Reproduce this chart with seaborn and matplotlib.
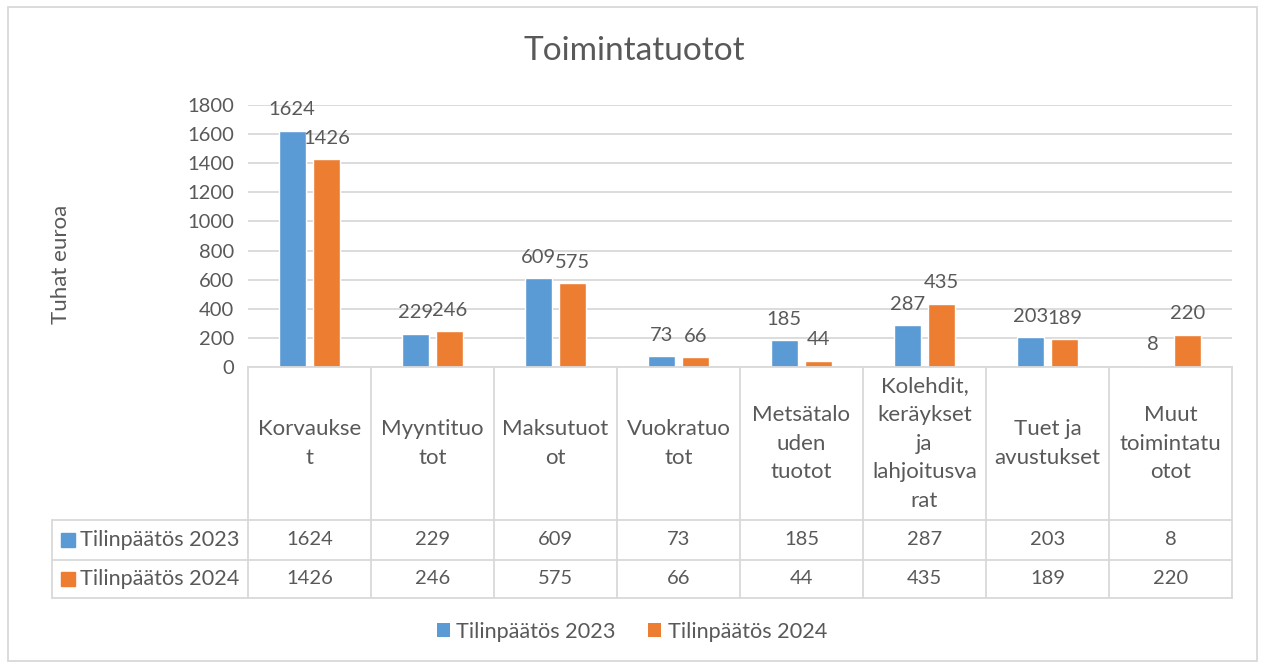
import pandas as pd
import numpy as np
import matplotlib
matplotlib.use("Agg")
import matplotlib.pyplot as plt
import matplotlib.transforms as mtransforms
from matplotlib.patches import Rectangle, Patch
import seaborn as sns

# data
categories = ["Korvaukse\nt", "Myyntituo\ntot", "Maksutuot\not", "Vuokratuo\ntot",
              "Metsätalo\nuden\ntuotot", "Kolehdit,\nkeräykset\nja\nlahjoitusva\nrat",
              "Tuet ja\navustukset", "Muut\ntoimintatu\notot"]
series = ["Tilinpäätös 2023", "Tilinpäätös 2024"]
values_2023 = [1624, 229, 609, 73, 185, 287, 203, 8]
values_2024 = [1426, 246, 575, 66, 44, 435, 189, 220]
yticks = list(range(0, 1801, 200))

colors = ["#5B9BD5", "#ED7D31"]
text_color = "#595959"
line_color = "#D9D9D9"

df = pd.DataFrame({
    "kategoria": categories * 2,
    "sarja": [series[0]] * len(categories) + [series[1]] * len(categories),
    "arvo": values_2023 + values_2024,
})

sns.set_theme(style="white")
plt.rcParams["font.family"] = ["Lato", "DejaVu Sans"]

txt_size = 16
lab_size = 15.6
num_size = 14.5

fig = plt.figure(figsize=(12.64, 6.68), dpi=100)
ax = fig.add_axes([248 / 1264, 1 - 367 / 668, 984 / 1264, 262 / 668])

sns.barplot(data=df, x="kategoria", y="arvo", hue="sarja", palette=colors,
            saturation=1, width=0.56, gap=0.21, legend=False, ax=ax)

for cont in ax.containers:
    ax.bar_label(cont, padding=9, fontsize=num_size, color=text_color)

ax.set_ylim(0, 1800)
ax.set_yticks(yticks)
ax.set_xlim(-0.5, len(categories) - 0.5)
ax.yaxis.grid(True, color=line_color, linewidth=1.3)
ax.set_axisbelow(True)
ax.tick_params(axis="y", length=0, pad=10, labelsize=num_size, labelcolor=text_color)
ax.tick_params(axis="x", length=0, labelbottom=False)
ax.set_xlabel("")
ax.set_ylabel("")
for s in ["left", "right", "top"]:
    ax.spines[s].set_visible(False)
ax.spines["bottom"].set_color(line_color)
ax.spines["bottom"].set_linewidth(1.3)

# data table below the axis
tr = mtransforms.blended_transform_factory(ax.transData, ax.transAxes)
n = len(categories)
y_head_bot = (367 - 520) / 262
y_row1_bot = (367 - 560) / 262
y_row2_bot = (367 - 598) / 262
x_left = -0.5 - (248 - 52) / 123

lk = dict(color=line_color, linewidth=1.3, clip_on=False, transform=tr)
for i in range(n + 1):
    ax.plot([i - 0.5, i - 0.5], [0, y_row2_bot], **lk)
for yy in [y_head_bot, y_row1_bot, y_row2_bot]:
    ax.plot([x_left, n - 0.5], [yy, yy], **lk)
ax.plot([x_left, x_left], [y_head_bot, y_row2_bot], **lk)

for i, cat in enumerate(categories):
    ax.text(i, (0 + y_head_bot) / 2, cat, transform=tr, ha="center", va="center",
            fontsize=txt_size, color=text_color, linespacing=1.55)

row_vals = [values_2023, values_2024]
row_tops = [y_head_bot, y_row1_bot]
row_bots = [y_row1_bot, y_row2_bot]
for r in range(2):
    yc = (row_tops[r] + row_bots[r]) / 2
    for i, v in enumerate(row_vals[r]):
        ax.text(i, yc, str(v), transform=tr, ha="center", va="center",
                fontsize=num_size, color=text_color)
    ax.plot([x_left + 0.13], [yc], marker="s", markersize=9.5, color=colors[r],
            transform=tr, clip_on=False, linestyle="none")
    ax.text(x_left + 0.225, yc, series[r], transform=tr, ha="left", va="center",
            fontsize=lab_size, color=text_color)

# title, axis label, legend, border
fig.text(0.502, 1 - 51 / 668, "Toimintatuotot", ha="center", va="center",
         fontsize=24, color=text_color)
fig.text(61 / 1264, 1 - 264 / 668, "Tuhat euroa", rotation=90, ha="center",
         va="center", fontsize=txt_size, color=text_color)

handles = [Patch(facecolor=c, edgecolor="none") for c in colors]
fig.legend(handles, series, loc="center", bbox_to_anchor=(0.5, 1 - 632 / 668),
           ncol=2, frameon=False, fontsize=lab_size, handlelength=0.6, handleheight=0.6,
           handletextpad=0.3, columnspacing=1.5, labelcolor=text_color)

fig.patches.append(Rectangle((8 / 1264, 7 / 668), 1249 / 1264, 654 / 668,
                             transform=fig.transFigure, fill=False,
                             edgecolor=line_color, linewidth=1.3))

fig.savefig("out.png", dpi=100)
